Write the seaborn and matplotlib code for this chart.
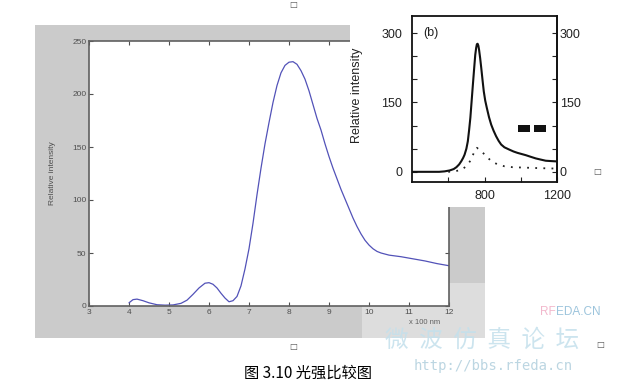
import matplotlib
matplotlib.use("Agg")
import matplotlib.pyplot as plt
from matplotlib.patches import Rectangle
import seaborn as sns

# main curve (wavelength in units of 100 nm)
main_x = [4.0, 4.1, 4.2, 4.35, 4.5, 4.7, 4.9, 5.1, 5.3, 5.45, 5.6, 5.75, 5.9, 6.0,
          6.1, 6.2, 6.3, 6.4, 6.5, 6.6, 6.7, 6.8, 6.9, 7.0, 7.1, 7.2, 7.3, 7.4, 7.5,
          7.6, 7.7, 7.8, 7.9, 8.0, 8.1, 8.2, 8.3, 8.4, 8.5, 8.6, 8.7, 8.8, 8.9, 9.0,
          9.1, 9.2, 9.3, 9.4, 9.5, 9.6, 9.7, 9.8, 9.9, 10.0, 10.1, 10.2, 10.3, 10.5,
          10.8, 11.1, 11.4, 11.7, 12.0]
main_y = [3, 6, 6.5, 5, 3, 1.2, 0.8, 1, 2.5, 5.5, 11, 17, 21.5, 22,
          20.5, 17, 12, 7.5, 4, 5, 9, 19, 35, 54, 78, 105, 130, 153, 173,
          192, 208, 220, 227, 230, 230.5, 228, 222, 214, 203, 190, 177, 166, 153, 141,
          130, 120, 110, 101, 92, 83, 75, 68, 62, 57.5, 54, 51.5, 50, 48,
          46.5, 44.5, 42.5, 40, 38]

# inset (b): wavelength in nm
solid_x = [400, 450, 500, 550, 580, 608, 630, 645, 660, 672, 682, 690, 700, 708, 715,
           722, 729, 736, 743, 749, 754, 758, 762, 766, 770, 776, 782, 789, 796, 804,
           813, 825, 837, 850, 864, 878, 892, 910, 937, 960, 982, 1005, 1028, 1055,
           1083, 1110, 1138, 1165, 1200]
solid_y = [0, 0, 0, 0, 1, 3, 6, 10, 16, 23, 30, 37, 50, 66, 90,
           117, 153, 189, 224, 253, 268, 276, 277, 273, 264, 246, 225, 199, 174, 154,
           138, 118, 102, 89, 77, 67, 59, 53, 48, 44, 41, 38.5, 36, 32.5,
           29, 26.5, 24, 23.3, 22.5]
dot_x = [600, 636, 678, 708, 727, 741, 758, 787, 813, 842, 873, 910, 955, 1028, 1100, 1200]
dot_y = [0, 1, 5, 16, 27, 41, 52, 43, 32, 22, 16, 12, 10, 9, 8, 7]

main_xticks = [3, 4, 5, 6, 7, 8, 9, 10, 11, 12]
main_yticks = [0, 50, 100, 150, 200, 250]
inset_xticks = [600, 800, 1000, 1200]
inset_xlabels = ["", "800", "", "1200"]
inset_yticks = [0, 50, 100, 150, 200, 250, 300]
inset_ylabels = ["0", "", "", "150", "", "", "300"]

sns.set_style("ticks")
plt.rcParams["font.family"] = ["Liberation Sans", "DejaVu Sans"]

W, H = 626, 381
fig = plt.figure(figsize=(W / 100, H / 100), dpi=100)

def fx(px):
    return px / W

def fy(py):
    return 1 - py / H

# gray matlab figure background
fig.add_artist(Rectangle((fx(35), fy(338)), fx(450), 313 / H, transform=fig.transFigure,
                         facecolor="#cbcbcb", edgecolor="none", zorder=-5))
# washed out corner behind the watermark
fig.add_artist(Rectangle((fx(362), fy(338)), fx(123), 55 / H, transform=fig.transFigure,
                         facecolor="white", alpha=0.35, edgecolor="none", zorder=-4))

# main axes
ax = fig.add_axes([fx(89), fy(306), 360 / W, 265 / H])
ax.set_facecolor("white")
sns.lineplot(x=main_x, y=main_y, ax=ax, color="#5252b8", linewidth=0.9,
             sort=False, estimator=None)
ax.set_xlim(3, 12)
ax.set_ylim(0, 250)
ax.set_xticks(main_xticks)
ax.set_yticks(main_yticks)
ax.tick_params(direction="in", length=3, width=0.8, colors="#505050", labelsize=6,
               top=True, right=True, pad=2)
for s in ax.spines.values():
    s.set_visible(True)
    s.set_color("#606060")
    s.set_linewidth(1.2)
ax.set_ylabel("Relative intensity", fontsize=6, color="#505050")
ax.yaxis.set_label_coords(-(89 - 56) / 360, 0.5)
fig.text(fx(425), fy(323), "x 100 nm", fontsize=5.5, color="#606060",
         ha="center", va="center")

# white block under the inset
fig.add_artist(Rectangle((fx(350), fy(207)), fx(276), 207 / H, transform=fig.transFigure,
                         facecolor="white", edgecolor="none", zorder=1))

# inset axes (b)
ins = fig.add_axes([fx(412), fy(182), 145 / W, 166 / H], zorder=2)
ins.set_facecolor("white")
sns.lineplot(x=solid_x, y=solid_y, ax=ins, color="#111111", linewidth=1.5,
             sort=False, estimator=None)
sns.lineplot(x=dot_x, y=dot_y, ax=ins, color="#222222", linewidth=1.3,
             linestyle=(0, (1, 3.5)), sort=False, estimator=None)
ins.set_xlim(400, 1200)
ins.set_ylim(-22, 337)
ins.set_xticks(inset_xticks)
ins.set_xticklabels(inset_xlabels)
ins.set_yticks(inset_yticks)
ins.set_yticklabels(inset_ylabels)
ins.tick_params(direction="in", length=3.5, width=0.8, labelsize=9, colors="#222222")
ins.tick_params(axis="y", pad=7)
ins.tick_params(axis="x", pad=6)
for s in ins.spines.values():
    s.set_visible(True)
    s.set_color("#111111")
    s.set_linewidth(1.3)
sec = ins.secondary_yaxis("right")
sec.set_yticks(inset_yticks)
sec.set_yticklabels(inset_ylabels)
sec.tick_params(direction="in", length=3.5, width=0.8, labelsize=9, colors="#222222", pad=2)
sec.spines["right"].set_linewidth(1.3)
ins.set_ylabel("Relative intensity", fontsize=9, color="#222222")
ins.yaxis.set_label_coords(-(412 - 363) / 145, 0.52)
ins.text(0.13, 0.9, "(b)", transform=ins.transAxes, fontsize=9, color="#222222",
         ha="center", va="center")
for x0 in (0.733, 0.841):
    ins.add_patch(Rectangle((x0, 0.30), 0.081, 0.043, transform=ins.transAxes,
                            facecolor="#111111", edgecolor="none"))

# caption
fig.text(fx(308), fy(373), "图 3.10 光强比较图", fontsize=11, color="black",
         ha="center", va="center",
         family=["Noto Sans CJK SC", "DejaVu Sans"])

# word anchors
for px, py in [(293, 4), (597, 172), (293, 347), (600, 345)]:
    fig.text(fx(px), fy(py), "□", fontsize=6, color="#555555",
             ha="center", va="center", family=["DejaVu Sans"])

# watermark
fig.text(fx(556), fy(312), "RF", fontsize=8.5, color="#f2b8cc", ha="right", va="center")
fig.text(fx(556), fy(312), "EDA.CN", fontsize=8.5, color="#9cc4dc", ha="left", va="center")
fig.text(fx(482), fy(340), "微  波  仿  真  论  坛", fontsize=17, color="#c4e0ec",
         ha="center", va="center", alpha=0.85,
         family=["Noto Sans CJK SC", "DejaVu Sans"])
fig.text(fx(493), fy(366), "http://bbs.rfeda.cn", fontsize=10, color="#bcd6e2",
         ha="center", va="center", family=["DejaVu Sans Mono"])

fig.savefig("out.png", dpi=100)
